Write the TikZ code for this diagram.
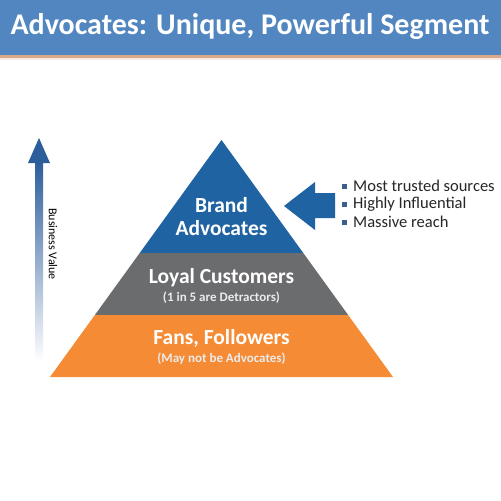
\documentclass[tikz,border=0pt]{standalone}
\usepackage{fontspec}
\setmainfont{Carlito}
\usetikzlibrary{calc,positioning}
\definecolor{titlebar}{HTML}{5186C0}
\definecolor{titleline}{HTML}{D9A98A}
\definecolor{advo}{HTML}{1F63A2}
\definecolor{loyal}{HTML}{6B6C6E}
\definecolor{fans}{HTML}{F68B35}
\definecolor{valuearrow}{HTML}{2D5E9C}
\definecolor{bulletc}{HTML}{3B5E8C}

\begin{document}
\begin{tikzpicture}[x=1pt,y=-1pt,
  tiertext/.style={font=\bfseries\fontsize{21.5}{22}\selectfont,text=white,align=center,inner sep=0pt},
  subtext/.style={font=\bfseries\fontsize{13}{14}\selectfont,text=white!92!black,inner sep=0pt},
  point/.style={font=\fontsize{16.5}{18}\selectfont,text=black!85,anchor=west,inner sep=0pt},
  square/.style={fill=bulletc,minimum size=5pt,inner sep=0pt}]
  \useasboundingbox (0,0) rectangle (501,501);
  \fill[white] (0,0) rectangle (501,501);

  % Title bar
  \fill[titlebar] (0,0) rectangle (501,55);
  \fill[titleline] (0,55) rectangle (501,58);
  \fill[titleline!25] (0,58) rectangle (501,60);
  \node[font=\bfseries\fontsize{30}{32}\selectfont,text=white,inner sep=0pt] (title) at (250,27) {Advocates: Unique, Powerful Segment};

  % Pyramid
  \coordinate (apex) at (221.5,140);
  \coordinate (bl) at (50,377);
  \coordinate (br) at (393,377);
  \coordinate (l1) at ($(apex)!0.4768!(bl)$);
  \coordinate (r1) at ($(apex)!0.4768!(br)$);
  \coordinate (l2) at ($(apex)!0.7384!(bl)$);
  \coordinate (r2) at ($(apex)!0.7384!(br)$);
  \fill[advo] (apex) -- (r1) -- (l1) -- cycle;
  \fill[loyal] (l1) -- (r1) -- (r2) -- (l2) -- cycle;
  \fill[fans] (l2) -- (r2) -- (br) -- (bl) -- cycle;
  \node[tiertext] (brand) at (221.5,217) {Brand\\[1pt]Advocates};
  \node[tiertext] (loyaltxt) at (221.5,278) {Loyal Customers};
  \node[subtext] (loyalsub) at (221.5,298) {(1 in 5 are Detractors)};
  \node[tiertext] (fanstxt) at (221.5,338) {Fans, Followers};
  \node[subtext] (fanssub) at (221.5,359) {(May not be Advocates)};

  % Business value arrow
  \shade[top color=valuearrow,bottom color=white] (35,162) rectangle (43,362);
  \fill[valuearrow] (39,138) -- (50,163) -- (28,163) -- cycle;
  \node[font=\fontsize{12}{13}\selectfont,rotate=-90,inner sep=0pt] (value) at (53,244) {Business Value};

  % Pointer arrow
  \fill[advo] (284,206) -- (315,182) -- (315,193) -- (335,193) -- (335,218) -- (315,218) -- (315,230) -- cycle;

  % Bullets
  \foreach \y/\t [count=\i] in {186/Most trusted sources,204/Highly Influential,222/Massive reach}{
    \node[square] (sq\i) at (344,\y) {};
    \node[point] (pt\i) at (353,\y) {\t};
  }
\end{tikzpicture}
\end{document}
